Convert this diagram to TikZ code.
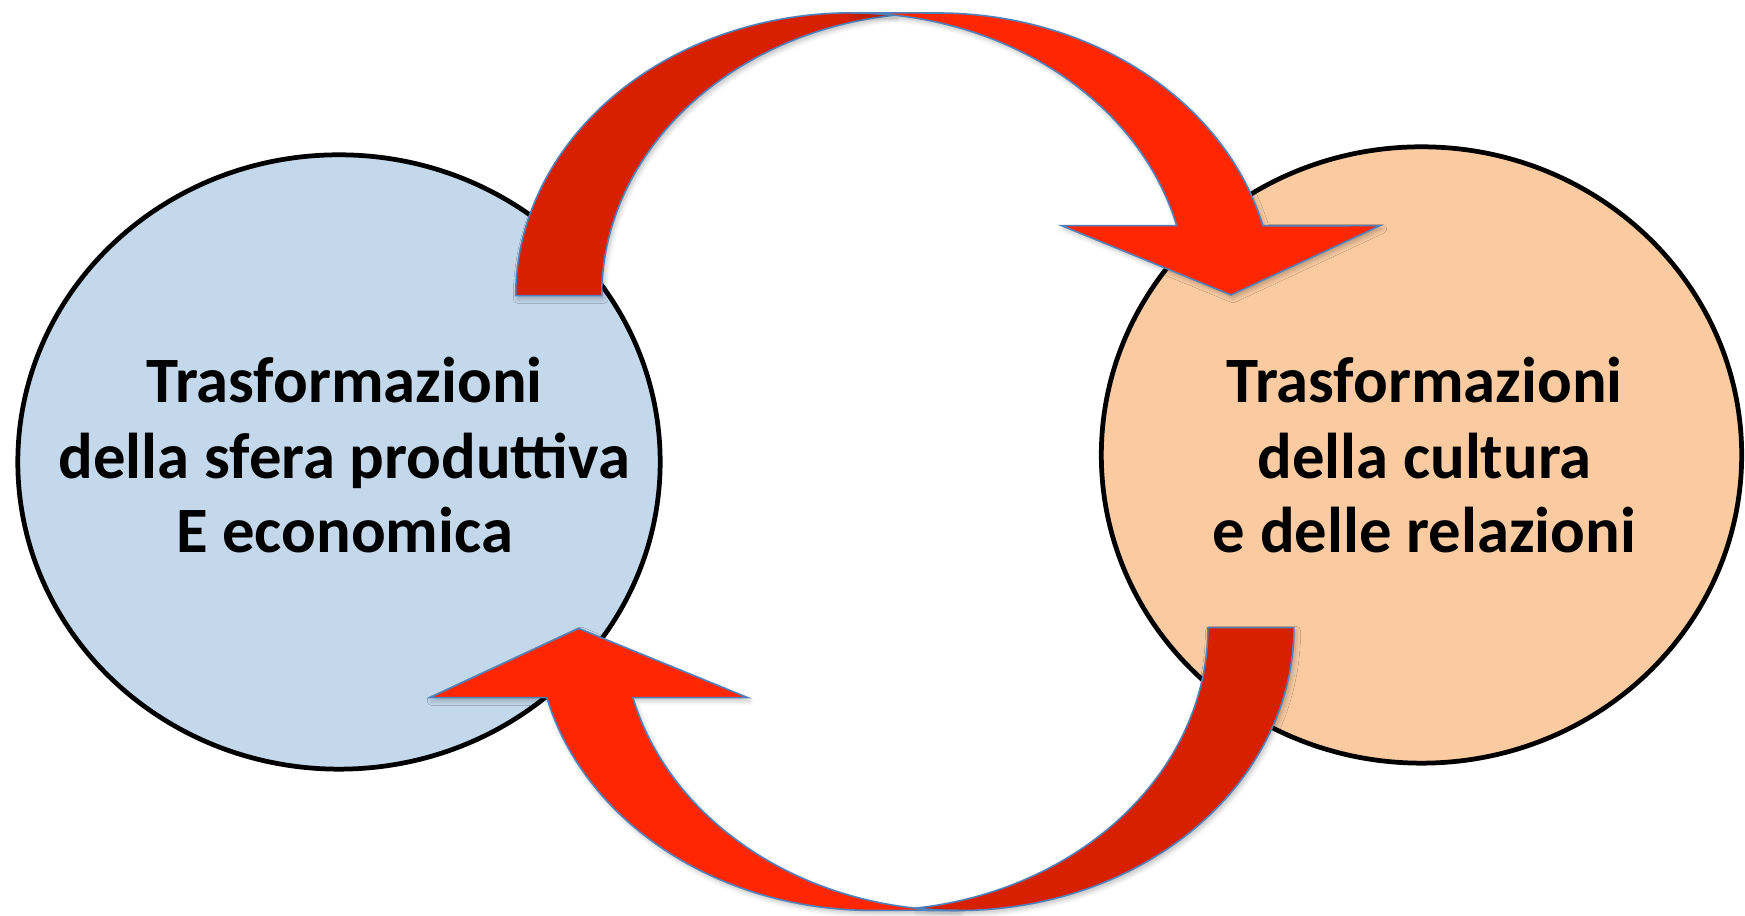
\documentclass[tikz,border=0pt]{standalone}
\usepackage{fontspec}
\setmainfont{Carlito}
\usetikzlibrary{shapes.geometric,shadows.blur}
\definecolor{leftfill}{RGB}{196,216,235}
\definecolor{rightfill}{RGB}{250,203,161}
\definecolor{arrowfront}{RGB}{255,38,0}
\definecolor{arrowback}{RGB}{214,32,0}
\definecolor{arrowedge}{RGB}{79,129,189}
\tikzset{
  bubble/.style={ellipse, draw=black, line width=1.35pt, inner sep=0pt},
  labeltext/.style={font=\bfseries\fontsize{18.4}{22}\selectfont, anchor=base, inner sep=0pt},
  softshadow/.style={blur shadow={shadow xshift=0.6pt, shadow yshift=-0.9pt, shadow blur radius=1.3pt, shadow opacity=25}},
  arrowback/.style={fill=arrowback, draw=arrowedge, line width=0.45pt, softshadow},
  arrowfront/.style={fill=arrowfront, draw=arrowedge, line width=0.45pt, softshadow},
}
\newcommand{\curvedband}{%
  \path[arrowback] (515.7,620.3)
     arc[start angle=180, end angle=82.64, x radius=3.357cm, y radius=2.827cm]
     arc[start angle=97.36, end angle=180, x radius=3.357cm, y radius=2.827cm] -- cycle;
  \path[arrowfront] (1231,621) -- (1061.7,690.3) -- (1176.7,690.3)
     arc[start angle=14.34, end angle=90, x radius=3.357cm, y radius=2.827cm]
     -- (937.4,903)
     arc[start angle=90, end angle=14.34, x radius=3.357cm, y radius=2.827cm]
     -- (1380,690.3) -- cycle;
}
\begin{document}
\begin{tikzpicture}[x=0.01cm, y=0.01cm]
  \useasboundingbox (0,0) rectangle (1745,916);
  \node[bubble, fill=leftfill, minimum width=6.42cm, minimum height=6.14cm] (left) at (339,454) {};
  \node[bubble, fill=rightfill, minimum width=6.40cm, minimum height=6.16cm] (right) at (1421.5,461) {};
  \node[labeltext] (l1) at (344.5,513) {Trasformazioni};
  \node[labeltext] (l2) at (344.5,437.5) {della sfera produttiva};
  \node[labeltext] (l3) at (344.5,363) {E economica};
  \node[labeltext] (r1) at (1424.5,513) {Trasformazioni};
  \node[labeltext] (r2) at (1424.5,437.5) {della cultura};
  \node[labeltext] (r3) at (1424.5,363) {e delle relazioni};
  \curvedband
  \begin{scope}[rotate around={180:(904.8,454.3)}]
    \curvedband
  \end{scope}
\end{tikzpicture}
\end{document}
